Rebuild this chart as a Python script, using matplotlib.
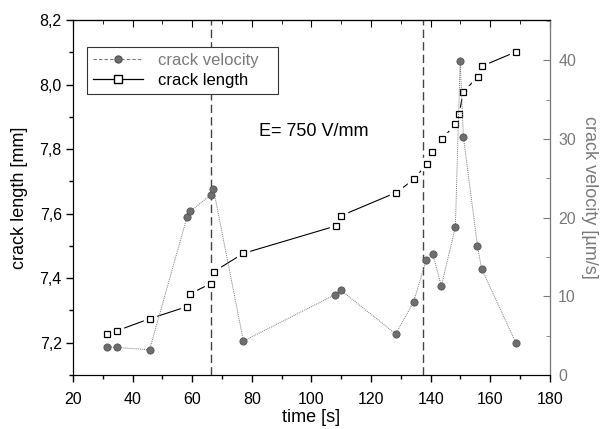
import matplotlib
matplotlib.use("Agg")
import matplotlib.pyplot as plt
from matplotlib.lines import Line2D
from matplotlib.ticker import MultipleLocator, FuncFormatter

plt.rcParams["font.family"] = ["Liberation Sans", "DejaVu Sans"]

# 裂纹长度 (mm)
t_len = [31.5, 34.7, 45.7, 58.3, 59.4, 66.2, 67.2, 77.2, 108.2, 109.8,
         128.3, 134.4, 138.7, 140.6, 143.8, 148.3, 149.6, 150.9, 155.8, 157.1, 168.7]
crack_len = [7.226, 7.237, 7.274, 7.312, 7.352, 7.383, 7.420, 7.477, 7.562, 7.593,
             7.665, 7.706, 7.755, 7.792, 7.832, 7.877, 7.910, 7.977, 8.024, 8.057, 8.102]

# 裂纹速度 (µm/s)
t_vel = [31.5, 34.7, 45.7, 58.3, 59.4, 66.2, 67.1, 77.2, 107.9, 109.8,
         128.3, 134.3, 138.5, 140.7, 143.6, 148.3, 149.9, 151.0, 155.7, 157.1, 168.7]
crack_vel = [3.6, 3.5, 3.2, 20.1, 20.8, 22.9, 23.7, 4.3, 10.2, 10.8,
             5.2, 9.3, 14.6, 15.4, 11.3, 18.8, 39.9, 30.3, 16.4, 13.5, 4.0]

vlines_t = [66.4, 137.4]
note = "E= 750 V/mm"

GRAY = "#7a7a7a"
comma = FuncFormatter(lambda v, p: f"{v:.1f}".replace(".", ","))

fig = plt.figure(figsize=(6.13, 4.29), dpi=100)
ax = fig.add_axes([0.119, 0.126, 0.778, 0.827])
ax2 = ax.twinx()

# 长度曲线：线段在方块处断开
ax.plot(t_len, crack_len, color="black", lw=0.8, zorder=2)
ax.plot(t_len, crack_len, ls="none", marker="s", ms=9, mfc="white", mec="white", zorder=3)
ax.plot(t_len, crack_len, ls="none", marker="s", ms=5, mfc="white", mec="black", mew=0.9, zorder=4)

for xv in vlines_t:
    ax.axvline(xv, color="#444444", lw=1.0, ls=(0, (6, 3)), zorder=1)

ax.text(82.4, 7.855, note, fontsize=13, va="center", ha="left")

ax.set_xlim(20, 180)
ax.set_ylim(7.1, 8.2)
ax.xaxis.set_major_locator(MultipleLocator(20))
ax.xaxis.set_minor_locator(MultipleLocator(10))
ax.yaxis.set_major_locator(MultipleLocator(0.2))
ax.yaxis.set_minor_locator(MultipleLocator(0.1))
ax.yaxis.set_major_formatter(comma)
ax.tick_params(which="both", direction="out", labelsize=11.5, width=1.0)
ax.tick_params(axis="x", which="major", length=5, pad=7)
ax.tick_params(axis="y", which="major", length=5, pad=3)
ax.tick_params(which="minor", length=3)
ax.set_xlabel("time [s]", fontsize=13, labelpad=2)
ax.set_ylabel("crack length [mm]", fontsize=13, labelpad=8)

# 顶部刻度朝内
top = ax.secondary_xaxis("top")
top.xaxis.set_major_locator(MultipleLocator(20))
top.xaxis.set_minor_locator(MultipleLocator(10))
top.tick_params(which="both", direction="in", labeltop=False)
top.tick_params(which="major", length=5)
top.tick_params(which="minor", length=3)

# 速度曲线（右轴）
ax2.plot(t_vel, crack_vel, color=GRAY, lw=0.7, ls=(0, (1, 1)), marker="o", ms=5.2,
         mfc="#6e6e6e", mec="#555555", mew=0.6)
ax2.set_ylim(0, 45.1)
ax2.yaxis.set_major_locator(MultipleLocator(10))
ax2.yaxis.set_minor_locator(MultipleLocator(5))
ax2.tick_params(which="both", direction="in", colors=GRAY, labelsize=11.5)
ax2.tick_params(which="major", length=5, pad=6)
ax2.tick_params(which="minor", length=3)
ax2.spines["right"].set_color(GRAY)
ax2.set_ylabel("crack velocity [µm/s]", color=GRAY, fontsize=13, rotation=270, labelpad=16)

handles = [
    Line2D([], [], color=GRAY, lw=0.8, ls=(0, (3, 2)), marker="o", ms=5, mfc="#6e6e6e", mec="#555555"),
    Line2D([], [], color="black", lw=0.9, marker="s", ms=5.5, mfc="white", mec="black"),
]
leg = ax2.legend(handles, ["crack velocity", "crack length"], loc="upper left",
                 bbox_to_anchor=(0.029, 0.924, 0.40, 0.0), mode="expand", borderaxespad=0,
                 fontsize=12, fancybox=False, edgecolor="#333333", framealpha=1,
                 borderpad=0.35, handlelength=3.0, handletextpad=0.9, labelspacing=0.3)
leg.get_frame().set_linewidth(0.8)
leg.get_texts()[0].set_color(GRAY)

fig.savefig("out.png", dpi=100)
